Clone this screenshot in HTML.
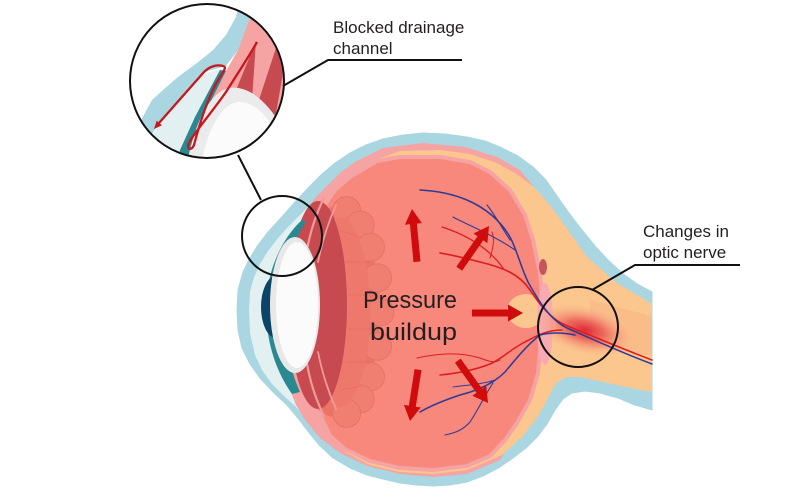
<!DOCTYPE html>
<html><head><meta charset="utf-8">
<style>
html,body{margin:0;padding:0;background:#fff;}
svg{display:block;}
text{font-family:"Liberation Sans",sans-serif;fill:#231f20;}
</style></head><body>
<svg width="800" height="500" viewBox="0 0 800 500" xmlns="http://www.w3.org/2000/svg">
<defs>
<clipPath id="cz"><circle cx="207" cy="81" r="76"/></clipPath>
<radialGradient id="rg" cx="0.5" cy="0.5" r="0.5">
<stop offset="0" stop-color="#dd2a35"/>
<stop offset="0.35" stop-color="#ea5a55" stop-opacity="0.85"/>
<stop offset="0.7" stop-color="#f59c7c" stop-opacity="0.45"/>
<stop offset="1" stop-color="#fcc78f" stop-opacity="0"/>
</radialGradient>
</defs>
<rect width="800" height="500" fill="#fff"/>

<!-- outer blue sclera + cornea + nerve sheath -->
<path fill="#a9d6e0" stroke="#a9d6e0" stroke-width="1" stroke-linejoin="round" d="M237,310 L238,290 L243,272 L250,258 L258,245 L268,232 L280,219 L295,202 L310,186 L322,174 L335,163 L350,153 L366,145 L383,139 L403,135 L423,133 L445,134 L467,137 L485,141 L500,147 L518,156 L533,167 L546,180 L557,196 L569,213 L582,230 L595,246 L608,260 L622,273 L637,284 L652,292 L652,410 L635,405 L618,398 L600,393 L585,391 L572,393 L563,399 L555,410 L547,424 L538,436 L526,448 L513,458 L500,467 L483,476 L467,482 L450,485 L433,486 L416,485 L400,483 L383,479 L367,475 L350,468 L333,458 L319,445 L307,430 L297,417 L287,405 L273,392 L260,378 L250,364 L242,348 L238,330 Z"/>

<!-- pale cornea -->
<polygon fill="#e2f0f1" points="249,310 250,292 254,277 260,264 268,251 278,238 290,225 303,212 315,200 330,195 330,420 305,418 296,407 284,396 272,384 262,370 255,355 250,333"/>

<!-- pink eyeball layer -->
<polygon fill="#f5a3a3" points="300,224 306,210 316,197 328,185 340,173 355,162 383,148 423,143 465,147 497,157 520,170 532,185 530,300 515,435 500,460 467,474 433,477 400,474 367,466 340,453 320,438 305,420 296,405 292,395 292,232"/>

<!-- peach retina + nerve -->
<polygon fill="#fcc78f" points="375,160 400,151 440,150 470,154 497,163 518,175 535,188 548,203 563,223 587,257 617,283 652,304 652,392 630,388 603,382 580,377 567,377 556,383 547,400 537,418 522,437 502,455 467,470 433,474 400,472 370,465 345,452 400,420 500,311 400,190"/>

<!-- nerve central band -->
<polygon fill="#f6ad80" opacity="0.35" points="590,300 652,316 652,356 590,346"/>

<!-- vitreous -->
<polygon fill="#f8877c" stroke="#f5a3a3" stroke-width="4" stroke-linejoin="round" points="335,190 350,177 377,161 400,157 440,157 470,162 490,172 510,190 525,215 533,240 540,273 543,307 541,340 538,373 530,400 517,423 505,440 490,456 467,466 433,470 400,468 370,461 345,449 330,436 318,410 312,311 318,215"/>

<!-- petals -->
<ellipse cx="335" cy="312" rx="45" ry="105" fill="#ec7467"/>
<g fill="#f07f72" stroke="#e46f63" stroke-width="0.8">
<circle cx="346.6" cy="210.6" r="14"/>
<circle cx="360.2" cy="225" r="14"/>
<circle cx="370.5" cy="247.3" r="14"/>
<circle cx="377.6" cy="277.8" r="14"/>
<circle cx="380" cy="312" r="14"/>
<circle cx="377.6" cy="346.2" r="14"/>
<circle cx="370.5" cy="376.7" r="14"/>
<circle cx="360.2" cy="399" r="14"/>
<circle cx="346.6" cy="413.4" r="14"/>
</g>
<ellipse cx="340" cy="312" rx="30" ry="95" fill="#ee786b"/>
<g fill="none" stroke="#e46f63" stroke-width="0.8">
<path d="M340,230 L362,238"/><path d="M345,262 L370,262"/><path d="M348,295 L376,295"/>
<path d="M348,329 L376,329"/><path d="M345,362 L370,362"/><path d="M340,390 L362,386"/>
</g>

<!-- dark red ciliary body -->
<ellipse cx="318" cy="305" rx="29" ry="104" fill="#c64a50"/>
<g fill="none" stroke="#f19a98" stroke-linecap="round">
<path d="M307,250 Q312,222 324,198" stroke-width="2.2"/>
<path d="M318,262 Q324,232 336,205" stroke-width="1.8"/>
<path d="M307,364 Q312,392 324,416" stroke-width="2.2"/>
<path d="M318,352 Q324,382 336,409" stroke-width="1.8"/>
</g>

<!-- teal iris -->
<path fill="#2a8891" d="M302,220 C280,240 266,275 266,307 C266,340 275,370 292,394 L300,392 C290,370 284,340 284,307 C284,275 290,245 306,222 Z"/>
<!-- pupil navy -->
<ellipse cx="276" cy="307" rx="15" ry="31" fill="#0c4467"/>
<!-- lens -->
<ellipse cx="295" cy="305" rx="25" ry="68" fill="#e8e8e8"/>
<ellipse cx="297" cy="305" rx="21" ry="63" fill="#fbfbfb"/>

<!-- optic disc -->
<ellipse cx="526" cy="311" rx="19" ry="17" fill="#fcc78f"/>
<ellipse cx="545" cy="324" rx="8" ry="41" fill="#f7aab3"/>
<ellipse cx="543" cy="267" rx="4" ry="8" fill="#c5555c"/>
<ellipse cx="585" cy="330" rx="55" ry="26" fill="url(#rg)" transform="rotate(14 585 330)"/>

<!-- vessels -->
<g fill="none" stroke-linecap="round">
<path stroke="#e01b1f" stroke-width="1.6" d="M652,360 C620,348 590,335 565,325 C550,318 540,305 530,290 C520,275 505,268 480,262 C465,258 452,255 440,253"/>
<path stroke="#e01b1f" stroke-width="1.2" d="M503,268 C490,250 470,236 442,227"/>
<path stroke="#e01b1f" stroke-width="1" d="M490,258 C493,248 495,240 492,232"/>
<path stroke="#e01b1f" stroke-width="1.5" d="M562,330 C545,330 535,337 523,343 C510,350 500,360 490,364 C475,370 460,373 440,375"/>
<path stroke="#e01b1f" stroke-width="1" d="M417,358 C440,353 460,352 480,358 C490,362 495,363 500,360"/>
<path stroke="#2e3b95" stroke-width="1.5" d="M652,364 C620,352 590,338 567,328 C550,320 538,300 528,282 C520,265 517,250 510,237 C503,225 490,210 467,200 C455,195 440,191 420,190"/>
<path stroke="#2e3b95" stroke-width="1.1" d="M453,217 C470,226 495,236 515,250"/>
<path stroke="#2e3b95" stroke-width="1.1" d="M487,205 C495,215 502,228 510,240"/>
<path stroke="#2e3b95" stroke-width="1.5" d="M575,335 C560,332 548,333 540,335 C527,345 515,360 505,372 C495,382 480,390 460,395 C445,400 432,405 420,412"/>
<path stroke="#2e3b95" stroke-width="1.1" d="M493,383 C485,395 478,410 470,422 C463,430 455,433 445,435"/>
<path stroke="#2e3b95" stroke-width="1" d="M453,387 C465,385 480,385 495,380"/>
</g>

<!-- arrows -->
<g fill="#cf0b0b">
<polygon transform="translate(412,209) rotate(-95.4)" points="-53,-3.5 -15,-3.5 -15,-8.5 0,0 -15,8.5 -15,3.5 -53,3.5"/>
<polygon transform="translate(489,226) rotate(-55.1)" points="-52,-3.5 -15,-3.5 -15,-8.5 0,0 -15,8.5 -15,3.5 -52,3.5"/>
<polygon transform="translate(523,313)" points="-51,-3.5 -15,-3.5 -15,-8.5 0,0 -15,8.5 -15,3.5 -51,3.5"/>
<polygon transform="translate(488,403) rotate(54.5)" points="-52,-3.5 -15,-3.5 -15,-8.5 0,0 -15,8.5 -15,3.5 -52,3.5"/>
<polygon transform="translate(410,421) rotate(98.9)" points="-52,-3.5 -15,-3.5 -15,-8.5 0,0 -15,8.5 -15,3.5 -52,3.5"/>
</g>

<!-- text -->
<text x="363" y="308" font-size="24" textLength="94" lengthAdjust="spacingAndGlyphs">Pressure</text>
<text x="370" y="340" font-size="24" textLength="87" lengthAdjust="spacingAndGlyphs">buildup</text>
<text x="333" y="33" font-size="17">Blocked drainage</text>
<text x="333" y="54" font-size="17">channel</text>
<text x="643" y="237" font-size="17">Changes in</text>
<text x="643" y="258" font-size="17">optic nerve</text>

<!-- magnified inset -->
<g clip-path="url(#cz)">
<rect x="120" y="0" width="180" height="170" fill="#fff"/>
<polygon fill="#f5a3a3" points="250,0 300,0 300,170 193,170 193,150 203,117 220,83 226,71 238,50 250,17"/>
<polygon fill="#e2f0f1" points="224,68 204,74 180,100 160,122 150,140 145,170 176,170 180,150 195,117 213,83"/>
<polygon fill="#a9d6e0" points="240,0 252,0 250,17 238,50 226,66 204,72 182,97 160,122 148,140 140,170 120,170 120,140 132,135 141,120 152,100 163,90 178,77 197,63 213,50 226,35 236,17"/>
<polygon fill="#2a8891" points="220,70 226,71 220,83 203,117 193,150 193,170 176,170 180,150 195,117 213,83"/>
<g fill="#c64a50">
<polygon points="256,41 252,100 232,100"/>
<polygon points="277,45 287,50 274,125 253,118"/>
<polygon points="288,62 295,62 295,140 283,135"/>
</g>
<path fill="#ebebeb" d="M186,170 C192,130 208,92 229,88 C250,85 270,103 290,140 L300,170 Z"/>
<path fill="#fbfbfb" d="M200,170 C206,133 220,104 238,102 C256,101 272,120 285,150 L290,170 Z"/>
<path fill="none" stroke="#c8161d" stroke-width="2.3" stroke-linejoin="round" d="M257,42 C248,58 236,76 226,92 C212,112 198,128 190,141 C185,149 191,152 194,145 C199,126 207,100 217,82 C222,73 228,67 223,66 C216,64 209,67 204,72 L159,123"/>
<polygon fill="#c8161d" points="154,129 161.9,125.3 156.7,120.7"/>
</g>

<!-- callout circles & leader lines -->
<g fill="none" stroke="#111" stroke-width="2">
<circle cx="207" cy="81" r="77"/>
<polyline points="283,86 328,60 462,60"/>
<line x1="238" y1="155" x2="261" y2="200"/>
<circle cx="282" cy="236" r="40"/>
<circle cx="578" cy="327" r="40"/>
<polyline points="592,290 635,265 740,265"/>
</g>
</svg>
</body></html>
